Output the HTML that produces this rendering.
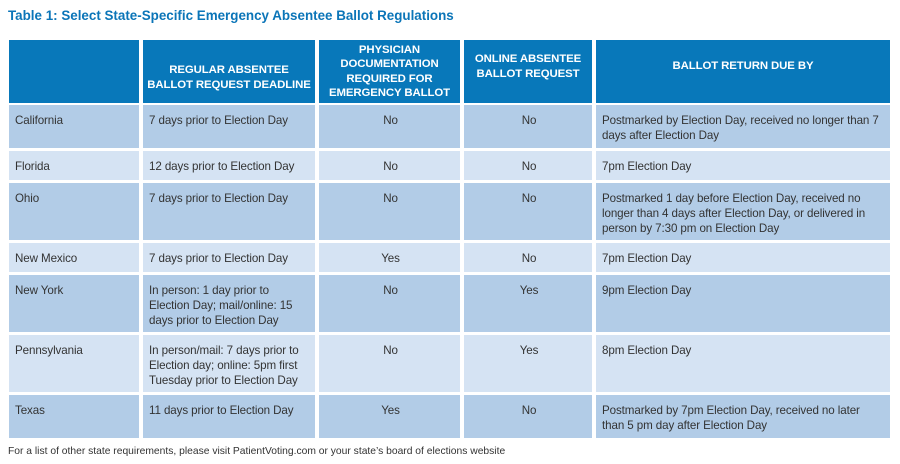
<!DOCTYPE html>
<html><head><style>
body{margin:0;width:900px;height:464px;background:#fff;position:relative;overflow:hidden;font-family:"Liberation Sans",sans-serif;}
.t{position:absolute;left:8px;top:8px;font-size:13.4px;font-weight:bold;color:#0b75b8;}
.c{position:absolute;box-sizing:border-box;font-size:11.6px;line-height:15px;color:#333;padding:8px 4px 0 6px;letter-spacing:-0.1px;white-space:nowrap;}
.h{background:#0878ba;color:#fff;font-weight:bold;text-align:center;font-size:11.4px;line-height:14.5px;display:flex;align-items:center;justify-content:center;padding:0 2px;white-space:nowrap;letter-spacing:-0.1px;}
.d{background:#b2cce7;}
.l{background:#d5e3f3;}
.m{text-align:center;}
.f{position:absolute;left:8px;top:446px;font-size:10.3px;color:#333;}
</style></head><body>
<div class="t">Table 1: Select State-Specific Emergency Absentee Ballot Regulations</div>
<div class="c h" style="left:9px;top:40px;width:130px;height:63px"></div>
<div class="c h" style="left:143px;top:40px;width:172px;height:63px;padding-top:12px">REGULAR ABSENTEE<br>BALLOT REQUEST DEADLINE</div>
<div class="c h" style="left:319px;top:40px;width:141px;height:63px">PHYSICIAN<br>DOCUMENTATION<br>REQUIRED FOR<br>EMERGENCY BALLOT</div>
<div class="c h" style="left:464px;top:40px;width:128px;height:63px;padding-bottom:10px">ONLINE ABSENTEE<br>BALLOT REQUEST</div>
<div class="c h" style="left:596px;top:40px;width:294px;height:63px;padding-bottom:10px">BALLOT RETURN DUE BY</div>
<script>
var rows=[
[105,43,'d','California','7 days prior to Election Day','No','No','Postmarked by Election Day, received no longer than 7<br>days after Election Day'],
[151,29,'l','Florida','12 days prior to Election Day','No','No','7pm Election Day'],
[183,57,'d','Ohio','7 days prior to Election Day','No','No','Postmarked 1 day before Election Day, received no<br>longer than 4 days after Election Day, or delivered in<br>person by 7:30 pm on Election Day'],
[243,29,'l','New Mexico','7 days prior to Election Day','Yes','No','7pm Election Day'],
[275,57,'d','New York','In person: 1 day prior to<br>Election Day; mail/online: 15<br>days prior to Election Day','No','Yes','9pm Election Day'],
[335,57,'l','Pennsylvania','In person/mail: 7 days prior to<br>Election day; online: 5pm first<br>Tuesday prior to Election Day','No','Yes','8pm Election Day'],
[395,43,'d','Texas','11 days prior to Election Day','Yes','No','Postmarked by 7pm Election Day, received no later<br>than 5 pm day after Election Day']];
var cols=[[9,130,''],[143,172,''],[319,141,' m'],[464,128,' m'],[596,294,'']];
var h='';
rows.forEach(function(r){cols.forEach(function(c,i){h+='<div class="c '+r[2]+c[2]+'" style="left:'+c[0]+'px;top:'+r[0]+'px;width:'+c[1]+'px;height:'+r[1]+'px">'+r[3+i]+'</div>';});});
document.write(h);
</script>
<div class="f">For a list of other state requirements, please visit PatientVoting.com or your state’s board of elections website</div>
</body></html>
